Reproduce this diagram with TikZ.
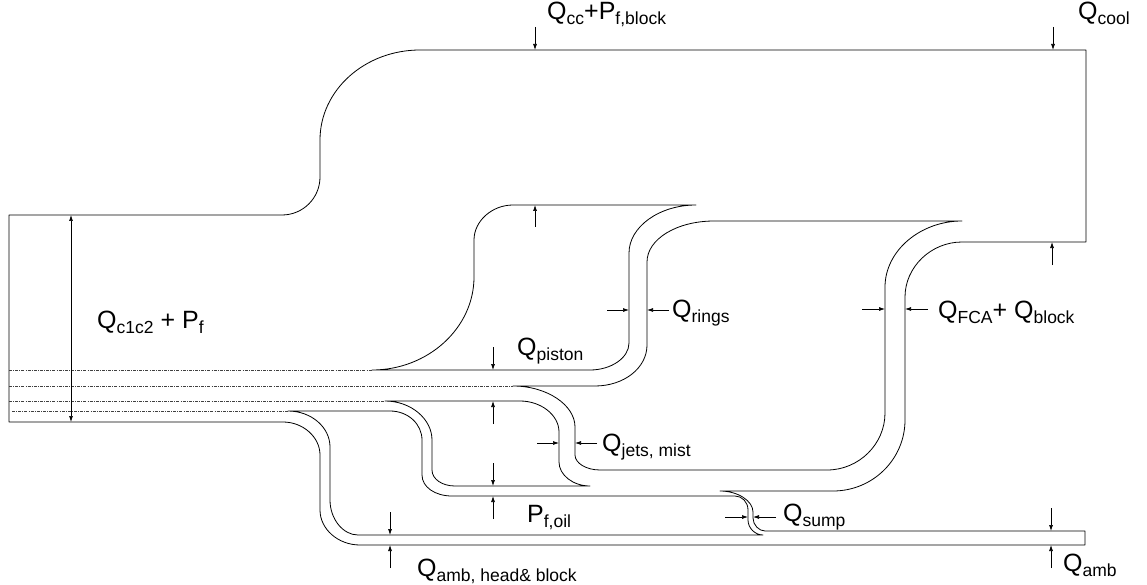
\documentclass[tikz,border=0pt]{standalone}
\usepackage{fontspec}
\setmainfont{Liberation Sans}
\usetikzlibrary{arrows.meta}

\newcommand{\sbs}[1]{\raisebox{-5pt}{\fontsize{17.5}{20}\selectfont #1}}

\begin{document}
\begin{tikzpicture}[
    x=1pt, y=-1pt,
    flow/.style={line width=0.8pt, line join=round},
    hidden/.style={line width=0.5pt, black!75, dash pattern=on 3pt off 1.2pt on 0.8pt off 1.2pt},
    dimarrow/.style={line width=0.7pt, -{Latex[length=6pt, width=4pt]}},
    dimboth/.style={line width=0.7pt, {Latex[length=6pt, width=4pt]}-{Latex[length=6pt, width=4pt]}},
    lbl/.style={anchor=base west, inner sep=0pt, font=\fontsize{25}{30}\selectfont},
]
\useasboundingbox (0,0) rectangle (1147,585);

% Outer boundary: input, coolant, FCA, sump and ambient
\draw[flow] (9,215) -- (282,215)
  .. controls +(21,0) and +(0,21) .. (320,177) -- (320,140)
  .. controls +(0,-50) and +(-55,0) .. (420,50)
  -- (1086,50) -- (1086,242) -- (962,242)
  .. controls +(-31,0) and +(0,-30) .. (905,297) -- (905,420)
  .. controls +(0,39) and +(40,0) .. (833,491) -- (720,491)
  .. controls +(18,0) and +(0,-11) .. (753,512) -- (753,518)
  .. controls +(0,7) and +(-6,0) .. (765,531) -- (1085,531) -- (1085,545) -- (360,545)
  .. controls +(-22,0) and +(0,19) .. (320,510) -- (320,455)
  .. controls +(0,-18) and +(20,0) .. (283,422) -- (9,422) -- cycle;

% Piston
\draw[flow] (372,370) .. controls +(56,0) and +(0,51) .. (474,277) -- (474,240)
  .. controls +(0,-19) and +(-21,0) .. (513,205) -- (696,205)
  .. controls +(-37,0) and +(0,-26) .. (629,253) -- (629,343)
  .. controls +(0,15) and +(21,0) .. (590,370) -- cycle;

% Rings, FCA + block, jets
\draw[flow] (513,386) -- (595,386)
  .. controls +(29,0) and +(0,23) .. (647,345) -- (647,262)
  .. controls +(0,-23) and +(-37,0) .. (714,221) -- (962,221)
  .. controls +(-42,0) and +(0,-36) .. (885,287) -- (885,413)
  .. controls +(0,31) and +(32,0) .. (827,470) -- (600,470)
  .. controls +(-14,0) and +(0,8) .. (575,455) -- (575,427)
  .. controls +(0,-22) and +(34,0) .. (513,386) -- cycle;

% Jets and oil
\draw[flow] (385,401) -- (520,401)
  .. controls +(21,0) and +(0,-17) .. (559,432) -- (559,462)
  .. controls +(0,13) and +(-17,0) .. (590,486) -- (455,486)
  .. controls +(-13,0) and +(0,9) .. (432,470) -- (432,440)
  .. controls +(0,-21) and +(26,0) .. (385,401) -- cycle;

% Oil, sump and ambient (head & block)
\draw[flow] (288,411) -- (390,411)
  .. controls +(18,0) and +(0,-16) .. (422,440) -- (422,475)
  .. controls +(0,12) and +(-17,0) .. (452,496) -- (735,496)
  .. controls +(7,0) and +(0,-8) .. (748,510) -- (748,520)
  .. controls +(0,8) and +(-8,0) .. (763,535) -- (358,535)
  .. controls +(-15,0) and +(0,19) .. (330,500) -- (330,447)
  .. controls +(0,-20) and +(23,0) .. (288,411) -- cycle;

% Split lines inside the input
\draw[hidden] (9,370) -- (372,370);
\draw[hidden] (9,386) -- (513,386);
\draw[hidden] (9,401) -- (385,401);
\draw[hidden] (12,411) -- (288,411);

% Dimension arrows
\coordinate (inTop) at (71,215);
\coordinate (inBot) at (71,422);
\draw[dimboth] (inTop) -- (inBot);

\coordinate (ccA) at (535,27);
\coordinate (ccB) at (535,50);
\draw[dimarrow] (ccA) -- (ccB);
\coordinate (coolA) at (1053,27);
\coordinate (coolB) at (1053,50);
\draw[dimarrow] (coolA) -- (coolB);
\coordinate (coolC) at (1052,265);
\coordinate (coolD) at (1052,242);
\draw[dimarrow] (coolC) -- (coolD);

\coordinate (pisA) at (535,227);
\coordinate (pisB) at (535,205);
\draw[dimarrow] (pisA) -- (pisB);
\coordinate (pisC) at (493,347);
\coordinate (pisD) at (493,370);
\draw[dimarrow] (pisC) -- (pisD);

\coordinate (ringA) at (607,310);
\coordinate (ringB) at (629,310);
\coordinate (ringC) at (669,310);
\coordinate (ringD) at (647,310);
\draw[dimarrow] (ringA) -- (ringB);
\draw[dimarrow] (ringC) -- (ringD);

\coordinate (fcaA) at (862,309);
\coordinate (fcaB) at (885,309);
\coordinate (fcaC) at (928,309);
\coordinate (fcaD) at (905,309);
\draw[dimarrow] (fcaA) -- (fcaB);
\draw[dimarrow] (fcaC) -- (fcaD);

\coordinate (jetA) at (537,443);
\coordinate (jetB) at (559,443);
\coordinate (jetC) at (597,443);
\coordinate (jetD) at (575,443);
\draw[dimarrow] (jetA) -- (jetB);
\draw[dimarrow] (jetC) -- (jetD);

\coordinate (oilA) at (493,424);
\coordinate (oilB) at (493,401);
\coordinate (oilC) at (493,463);
\coordinate (oilD) at (493,486);
\coordinate (oilE) at (493,519);
\coordinate (oilF) at (493,496);
\draw[dimarrow] (oilA) -- (oilB);
\draw[dimarrow] (oilC) -- (oilD);
\draw[dimarrow] (oilE) -- (oilF);

\coordinate (sumpA) at (725,517);
\coordinate (sumpB) at (748,517);
\coordinate (sumpC) at (776,517);
\coordinate (sumpD) at (753,517);
\draw[dimarrow] (sumpA) -- (sumpB);
\draw[dimarrow] (sumpC) -- (sumpD);

\coordinate (hbA) at (390,512);
\coordinate (hbB) at (390,535);
\coordinate (hbC) at (390,568);
\coordinate (hbD) at (390,545);
\draw[dimarrow] (hbA) -- (hbB);
\draw[dimarrow] (hbC) -- (hbD);

\coordinate (ambA) at (1051,508);
\coordinate (ambB) at (1051,531);
\coordinate (ambC) at (1051,568);
\coordinate (ambD) at (1051,545);
\draw[dimarrow] (ambA) -- (ambB);
\draw[dimarrow] (ambC) -- (ambD);

% Labels
\node[lbl] (lblIn) at (97,328) {Q\sbs{c1c2} + P\sbs{f}};
\node[lbl] (lblCC) at (547,20) {Q\sbs{cc}+P\sbs{f,block}};
\node[lbl] (lblCool) at (1078,20) {Q\sbs{cool}};
\node[lbl] (lblPiston) at (517,355) {Q\sbs{piston}};
\node[lbl] (lblRings) at (672,317) {Q\sbs{rings}};
\node[lbl] (lblFCA) at (938,318) {Q\sbs{FCA}+ Q\sbs{block}};
\node[lbl] (lblJets) at (602,451) {Q\sbs{jets, mist}};
\node[lbl] (lblOil) at (527,522) {P\sbs{f,oil}};
\node[lbl] (lblSump) at (783,521) {Q\sbs{sump}};
\node[lbl] (lblAmb) at (1063,571) {Q\sbs{amb}};
\node[lbl] (lblAmbHB) at (417,576) {Q\sbs{amb, head\& block}};

\end{tikzpicture}
\end{document}
